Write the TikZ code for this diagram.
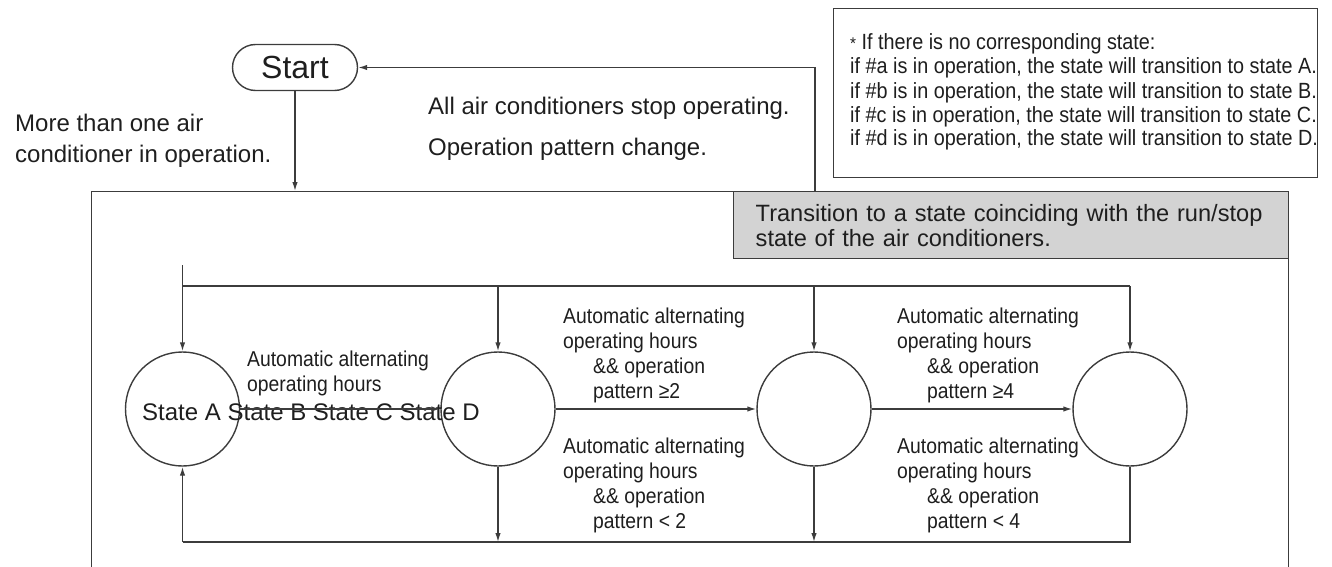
\documentclass[tikz,border=0pt]{standalone}
\usepackage{fontspec}
\setmainfont{Liberation Sans}
\newfontfamily\condfont{Liberation Sans}[FakeStretch=0.9]
\usetikzlibrary{arrows.meta,shapes.misc}
\definecolor{ln}{HTML}{3C3C3C}
\definecolor{tx}{HTML}{1E1E1E}
\definecolor{gr}{HTML}{D3D3D3}
\tikzset{
  conn/.style={draw=ln, line width=1.4pt},
  arr/.style={conn, -{Latex[length=9pt,width=5.5pt]}},
  boxline/.style={draw=ln, line width=1.4pt},
  statecirc/.style={circle, boxline, minimum size=114pt, inner sep=0pt},
  startbox/.style={rounded rectangle, boxline, minimum width=125pt, minimum height=46pt, inner sep=0pt, text=tx, font=\fontsize{32}{32}\selectfont},
  mainlbl/.style={anchor=base west, inner sep=0pt, align=left, text=tx, font=\fontsize{24}{31}\selectfont},
  condlbl/.style={anchor=base west, inner sep=0pt, align=left, text=tx, font=\condfont\fontsize{21.5}{25}\selectfont},
  notelbl/.style={anchor=base west, inner sep=0pt, align=left, text=tx, font=\condfont\fontsize{22}{24}\selectfont},
  graybox/.style={boxline, fill=gr, anchor=north west, minimum width=555pt, minimum height=67pt, inner xsep=22pt, inner ysep=0pt, text width=511pt, align=left, text=tx, font=\fontsize{23.6}{25}\selectfont}
}
\newcommand{\ind}{\hspace*{30pt}}
\begin{document}
\begin{tikzpicture}[x=1pt,y=-1pt]
\useasboundingbox (0,0) rectangle (1332,567);
\clip (0,0) rectangle (1332,567);

% outer frame (bottom edge outside the picture)
\node[boxline, anchor=north west, minimum width=1197pt, minimum height=400pt, inner sep=0pt] (frame) at (91,191) {};

% start
\node[startbox] (start) at (295,67.5) {Start};

% note box (base anchor = baseline of the last line)
\node[boxline, anchor=north west, minimum width=484pt, minimum height=169pt, inner sep=0pt] (notebox) at (833,8) {};
\node[notelbl] (notes) at (850,146) {{\fontsize{17}{17}\selectfont *} If there is no corresponding state:\\
if \#a is in operation, the state will transition to state A.\\
if \#b is in operation, the state will transition to state B.\\
if \#c is in operation, the state will transition to state C.\\
if \#d is in operation, the state will transition to state D.};

% gray transition box
\node[graybox] (trans) at (733,191) {Transition to a state coinciding with the run/stop\\state of the air conditioners.};

% texts near start
\node[mainlbl] (more) at (15,162) {More than one air\\conditioner in operation.};
\node[mainlbl, font=\fontsize{24}{40}\selectfont] (stop) at (428,155) {All air conditioners stop operating.\\Operation pattern change.};

% connectors of start
\coordinate (retB) at (815,191);
\coordinate (retT) at (815,67.5);
\draw[arr] (retB) -- (retT) -- (start.east);
\draw[arr] (start.south) -- (start.south |- frame.north);

% states
\node[statecirc] (A) at (182.5,409) {};
\node[statecirc] (B) at (498,409) {};
\node[statecirc] (C) at (814,409) {};
\node[statecirc] (D) at (1130,409) {};
\node[mainlbl] (names) at (142,420) {State A State B State C State D};

% top distribution
\coordinate (in) at (182.5,265);
\coordinate (tl) at (182.5,286);
\coordinate (tr) at (1130,286);
\draw[arr] (in) -- (A.north);
\draw[conn] (tl) -- (tr);
\draw[arr] (B.north |- tl) -- (B.north);
\draw[arr] (C.north |- tl) -- (C.north);
\draw[arr] (tr) -- (D.north);

% bottom return
\coordinate (bl) at (182.5,542);
\coordinate (br) at (1130,542);
\draw[arr] (bl) -- (A.south);
\draw[conn] (D.south) -- (br) -- (bl);
\draw[arr] (B.south) -- (B.south |- bl);
\draw[arr] (C.south) -- (C.south |- bl);

% forward transitions
\draw[arr] (A) -- (B);
\draw[arr] (B) -- (C);
\draw[arr] (C) -- (D);

% labels (base anchor = baseline of the last line)
\node[condlbl] (lab1) at (247,391) {Automatic alternating\\operating hours};
\node[condlbl] (lab2) at (563,398) {Automatic alternating\\operating hours\\\ind\&\& operation\\\ind pattern ≥2};
\node[condlbl] (lab3) at (563,528) {Automatic alternating\\operating hours\\\ind\&\& operation\\\ind pattern < 2};
\node[condlbl] (lab4) at (897,398) {Automatic alternating\\operating hours\\\ind\&\& operation\\\ind pattern ≥4};
\node[condlbl] (lab5) at (897,528) {Automatic alternating\\operating hours\\\ind\&\& operation\\\ind pattern < 4};
\end{tikzpicture}
\end{document}
